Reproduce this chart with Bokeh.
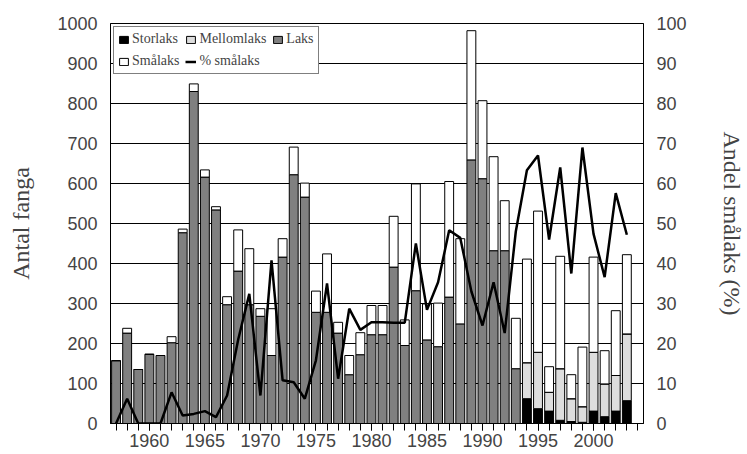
from bokeh.plotting import figure
from bokeh.models import (Range1d, LinearAxis, FixedTicker, SingleIntervalTicker,
                          ColumnDataSource, Legend, LegendItem)
from bokeh.embed import file_html
from bokeh.resources import INLINE

years = [1957, 1958, 1959, 1960, 1961, 1962, 1963, 1964, 1965, 1966,
         1967, 1968, 1969, 1970, 1971, 1972, 1973, 1974, 1975, 1976,
         1977, 1978, 1979, 1980, 1981, 1982, 1983, 1984, 1985, 1986,
         1987, 1988, 1989, 1990, 1991, 1992, 1993, 1994, 1995, 1996,
         1997, 1998, 1999, 2000, 2001, 2002, 2003]

storlaks = [0, 0, 0, 0, 0, 0, 0, 0, 0, 0,
            0, 0, 0, 0, 0, 0, 0, 0, 0, 0,
            0, 0, 0, 0, 0, 0, 0, 0, 0, 0,
            0, 0, 0, 0, 0, 0, 0, 62, 37, 31,
            8, 5, 3, 31, 17, 31, 57]

mellomlaks = [0, 0, 0, 0, 0, 0, 0, 0, 0, 0,
              0, 0, 0, 0, 0, 0, 0, 0, 0, 0,
              0, 0, 0, 0, 0, 0, 0, 0, 0, 0,
              0, 0, 0, 0, 0, 0, 0, 90, 141, 47,
              129, 57, 39, 147, 82, 89, 167]

laks = [157, 226, 135, 173, 170, 202, 477, 830, 616, 534,
        297, 381, 297, 268, 170, 416, 622, 566, 278, 278,
        226, 122, 172, 222, 222, 391, 195, 332, 209, 192,
        316, 249, 659, 612, 432, 432, 137, 0, 0, 0,
        0, 0, 0, 0, 0, 0, 0]

smalaks = [0, 12, 0, 0, 0, 15, 9, 19, 18, 8,
           20, 103, 140, 19, 117, 46, 69, 35, 53, 146,
           27, 48, 55, 73, 73, 127, 64, 267, 90, 109,
           289, 213, 323, 195, 235, 125, 126, 259, 353, 64,
           281, 60, 149, 238, 83, 162, 198]

pct_smalaks = [0, 6.2, 0, 0, 0, 7.8, 2.0, 2.4, 3.1, 1.6,
               7.0, 21.0, 32.4, 7.0, 40.8, 10.8, 10.3, 6.2, 15.8, 35.0,
               11.2, 28.7, 23.4, 25.3, 25.3, 25.2, 25.2, 45.0, 28.4, 35.3,
               48.3, 46.4, 33.0, 24.5, 35.3, 22.6, 48.0, 63.3, 67.0, 46.0,
               64.0, 37.5, 69.0, 47.4, 36.6, 57.6, 47.2]

label_years = [1960, 1965, 1970, 1975, 1980, 1985, 1990, 1995, 2000]
all_ticks = list(range(1957, 2005))

src = ColumnDataSource(data=dict(year=years, storlaks=storlaks, mellomlaks=mellomlaks,
                                 laks=laks, smalaks=smalaks, pct=pct_smalaks))

p = figure(width=747, height=454, output_backend="svg", toolbar_location=None,
           x_range=Range1d(1956.5, 2004.5), y_range=Range1d(0, 1000),
           min_border_left=110, min_border_right=92, min_border_top=23,
           min_border_bottom=31)
p.extra_y_ranges = {"pct": Range1d(0, 100)}

p.outline_line_color = "black"
p.outline_line_width = 1
p.xgrid.visible = False
p.ygrid.grid_line_color = "black"
p.ygrid.grid_line_width = 1
p.ygrid.ticker = SingleIntervalTicker(interval=100)

bars = p.vbar_stack(["storlaks", "mellomlaks", "laks", "smalaks"], x="year", width=0.8,
                    source=src, fill_color=["#000000", "#dddddd", "#808080", "#ffffff"],
                    line_color="black", line_width=1)
ln = p.line("year", "pct", source=src, y_range_name="pct", line_color="black", line_width=2.5)

# left axis
ya = p.yaxis[0]
ya.ticker = SingleIntervalTicker(interval=100)
ya.axis_label = "Antal fanga"
ya.axis_label_text_font = "Liberation Serif"
ya.axis_label_text_font_size = "24px"
ya.axis_label_text_font_style = "normal"
ya.axis_label_standoff = 20
ya.major_label_text_font = "Liberation Sans"
ya.major_label_text_font_size = "18px"
ya.major_label_standoff = 13
ya.major_tick_out = 0
ya.major_tick_in = 0
ya.minor_tick_out = 0
ya.minor_tick_in = 0
ya.axis_line_color = "black"

# right axis
ra = LinearAxis(y_range_name="pct", ticker=SingleIntervalTicker(interval=10))
ra.axis_label = "Andel smålaks (%)"
ra.axis_label_text_font = "Liberation Serif"
ra.axis_label_text_font_size = "24px"
ra.axis_label_text_font_style = "normal"
ra.axis_label_standoff = 29
ra.major_label_text_font = "Liberation Sans"
ra.major_label_text_font_size = "18px"
ra.major_label_standoff = 13
ra.major_tick_out = 0
ra.major_tick_in = 0
ra.minor_tick_out = 0
ra.minor_tick_in = 0
p.add_layout(ra, "right")

# x axis
xa = p.xaxis[0]
xa.ticker = FixedTicker(ticks=label_years, minor_ticks=all_ticks)
xa.major_label_text_font = "Liberation Sans"
xa.major_label_text_font_size = "18px"
xa.major_label_standoff = 3
xa.major_tick_out = 7
xa.major_tick_in = 0
xa.minor_tick_out = 7
xa.minor_tick_in = 0
xa.minor_tick_line_color = "black"
xa.major_tick_line_color = "black"

legend = Legend(items=[
    LegendItem(label="Storlaks", renderers=[bars[0]]),
    LegendItem(label="Mellomlaks", renderers=[bars[1]]),
    LegendItem(label="Laks", renderers=[bars[2]]),
    LegendItem(label="Smålaks", renderers=[bars[3]]),
    LegendItem(label="% smålaks", renderers=[ln]),
], orientation="horizontal", ncols=3, location="top_left")
legend.label_text_font = "Liberation Serif"
legend.label_text_font_size = "14px"
legend.glyph_width = 11
legend.glyph_height = 9
legend.label_standoff = 3
legend.label_height = 14
legend.spacing = 6
legend.padding = 4
legend.margin = 3
legend.border_line_color = "black"
legend.border_line_width = 1
legend.background_fill_alpha = 1
p.add_layout(legend, "center")

open("out.html", "w").write(file_html(p, INLINE))
